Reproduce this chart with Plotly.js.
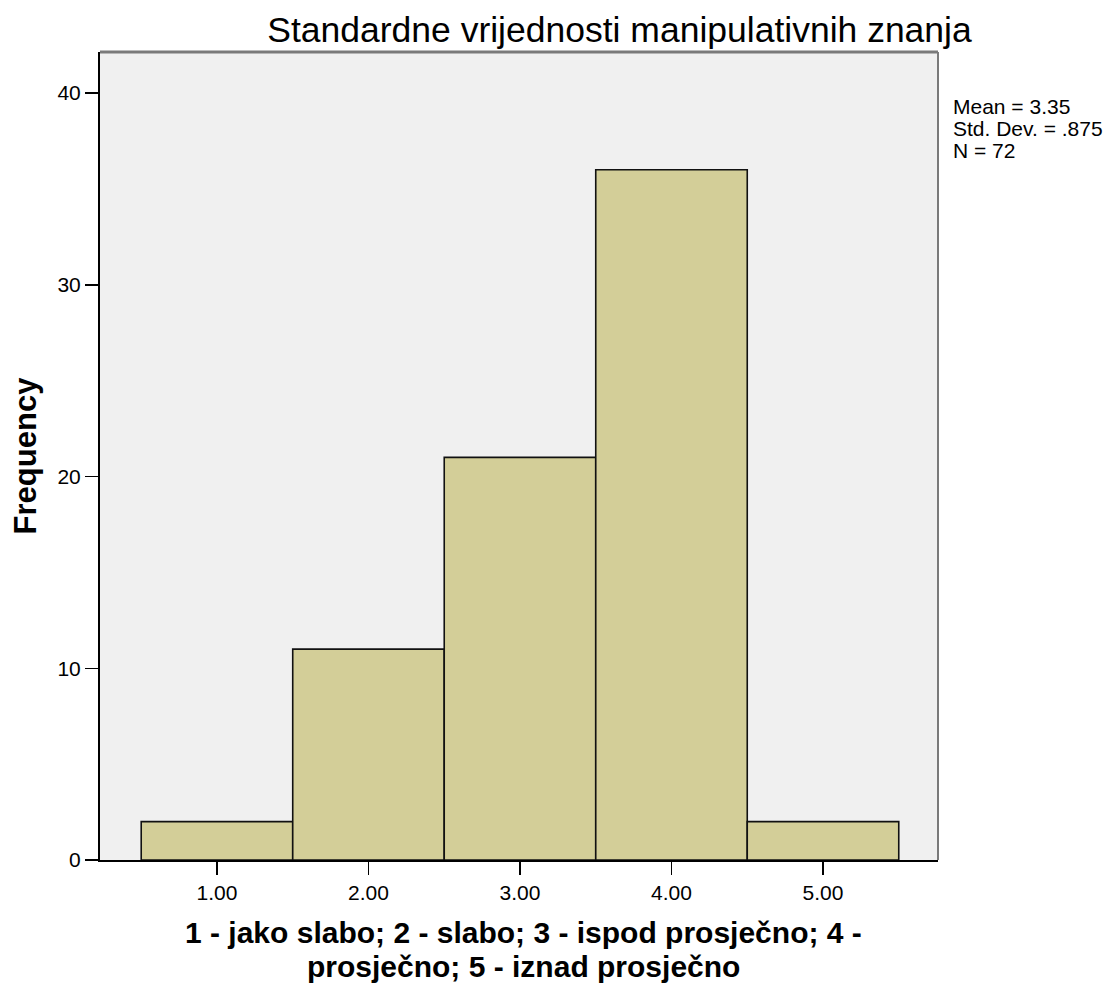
<!DOCTYPE html>
<html><head><meta charset="utf-8">
<script src="https://cdn.plot.ly/plotly-3.0.1.min.js"></script>
<style>html,body{margin:0;padding:0;background:#fff}#chart{width:1115px;height:985px}</style>
</head><body><div id="chart"></div>
<script>
const binCenters = [1, 2, 3, 4, 5];
const frequencies = [2, 11, 21, 36, 2];
const xTickVals = [1, 2, 3, 4, 5];
const xTickText = ["1.00", "2.00", "3.00", "4.00", "5.00"];
const yTickVals = [0, 10, 20, 30, 40];
const yTickText = ["0", "10", "20", "30", "40"];
const statLines = ["Mean = 3.35", "Std. Dev. = .875", "N = 72"];
const titleText = "Standardne vrijednosti manipulativnih znanja";
const xTitleLines = ["1 - jako slabo; 2 - slabo; 3 - ispod prosječno; 4 -", "prosječno; 5 - iznad prosječno"];
const yTitleText = "Frequency";

const F = "Liberation Sans, Arial, sans-serif";

const trace = {
  type: "bar",
  x: binCenters,
  y: frequencies,
  width: 1,
  marker: {color: "#D3CE98", line: {color: "#111", width: 1.6}},
  hoverinfo: "skip"
};

const statY = [0.9323, 0.9050, 0.8778];
const annotations = statLines.map((t, i) => ({
  text: t, xref: "paper", yref: "paper", x: 1.016, y: statY[i],
  xanchor: "left", yanchor: "middle", showarrow: false,
  font: {family: F, size: 21, color: "#000"}
}));
const xTitleY = [-0.0897, -0.1318];
xTitleLines.forEach((t, i) => annotations.push({
  text: t, xref: "paper", yref: "paper", x: 0.505, y: xTitleY[i],
  xanchor: "center", yanchor: "middle", showarrow: false,
  font: {family: F, size: 30, color: "#000", weight: "bold"}
}));

const layout = {
  width: 1115, height: 985,
  margin: {l: 100, r: 177, t: 52, b: 125, pad: 0},
  paper_bgcolor: "#fff",
  plot_bgcolor: "#F0F0F0",
  showlegend: false,
  title: {
    text: titleText, xref: "container", yref: "container",
    x: 0.5556, xanchor: "center", y: 0.9695, yanchor: "middle",
    font: {family: F, size: 35.5, color: "#000"}
  },
  xaxis: {
    range: [0.228, 5.759], tickvals: xTickVals, ticktext: xTickText,
    ticks: "outside", ticklen: 13, tickwidth: 1.5, tickcolor: "#000",
    showline: true, linecolor: "#000", linewidth: 2,
    showgrid: false, zeroline: false,
    tickfont: {family: F, size: 21, color: "#000"}
  },
  yaxis: {
    range: [0, 42.14], tickvals: yTickVals, ticktext: yTickText,
    ticks: "outside", ticklen: 13, tickwidth: 1.5, tickcolor: "#000",
    showline: true, linecolor: "#000", linewidth: 2,
    showgrid: false, zeroline: false,
    tickfont: {family: F, size: 21, color: "#000"},
    title: {text: yTitleText, standoff: 12, font: {family: F, size: 31, color: "#000", weight: "bold"}}
  },
  shapes: [
    {type: "line", xref: "paper", yref: "paper", x0: 0, x1: 1, y0: 1, y1: 1, line: {color: "#7a7a7a", width: 3}},
    {type: "line", xref: "paper", yref: "paper", x0: 1, x1: 1, y0: 0, y1: 1, line: {color: "#7a7a7a", width: 2}}
  ],
  annotations: annotations
};

Plotly.newPlot("chart", [trace], layout, {staticPlot: true, displayModeBar: false});
</script>
</body></html>
